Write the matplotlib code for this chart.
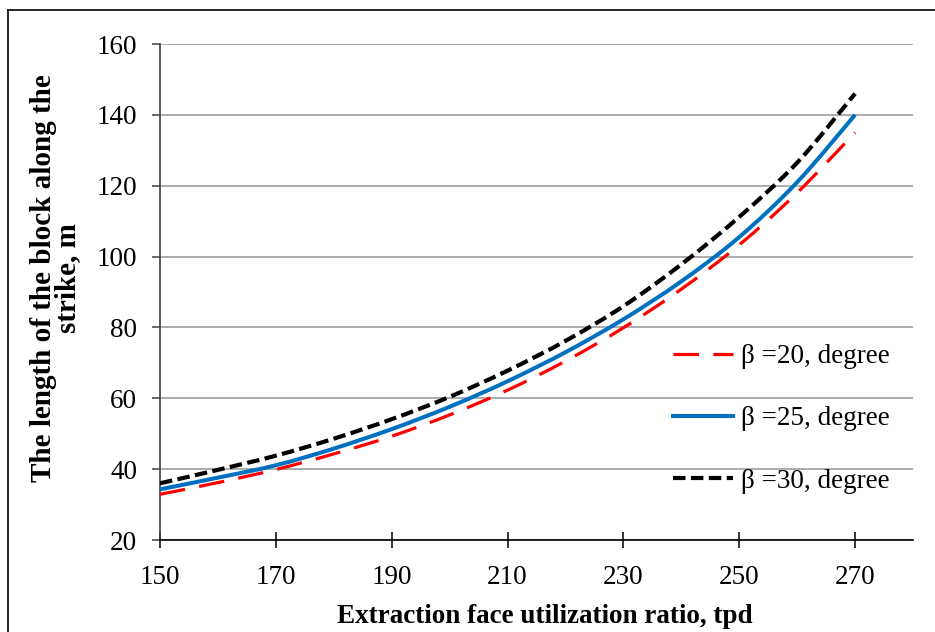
import matplotlib
matplotlib.use("Agg")
import matplotlib.pyplot as plt
from matplotlib.lines import Line2D
from matplotlib.path import Path
from matplotlib.patches import PathPatch

plt.rcParams['font.family'] = ['Liberation Serif', 'DejaVu Serif']

x = [150, 160, 170, 180, 190, 200, 210, 220, 230, 240, 250, 260, 270]
beta20 = [32.9, 36.2, 39.9, 44.3, 49.3, 55.3, 62.3, 70.5, 79.9, 90.8, 103.3, 118.0, 135.0]
beta25 = [34.3, 37.6, 41.1, 45.8, 51.3, 57.6, 64.8, 73.0, 82.3, 93.0, 105.5, 121.0, 140.0]
beta30 = [36.0, 39.8, 43.8, 48.6, 54.1, 60.4, 67.8, 76.2, 86.0, 97.8, 111.2, 126.5, 146.0]
labels = ["β =20, degree", "β =25, degree", "β =30, degree"]
xticks = [150, 170, 190, 210, 230, 250, 270]
yticks = [20, 40, 60, 80, 100, 120, 140, 160]


def smooth_path(xs, ys):
    pts = list(zip(xs, ys))
    n = len(pts)
    verts = [pts[0]]
    codes = [Path.MOVETO]
    for i in range(n - 1):
        p0 = pts[i - 1] if i > 0 else pts[i]
        p1 = pts[i]
        p2 = pts[i + 1]
        p3 = pts[i + 2] if i + 2 < n else pts[i + 1]
        c1 = (p1[0] + (p2[0] - p0[0]) / 6, p1[1] + (p2[1] - p0[1]) / 6)
        c2 = (p2[0] - (p3[0] - p1[0]) / 6, p2[1] - (p3[1] - p1[1]) / 6)
        verts += [c1, c2, p2]
        codes += [Path.CURVE4] * 3
    return Path(verts, codes)


fig = plt.figure(figsize=(9.35, 6.32), dpi=100)
ax = fig.add_axes([160/935, 1-540/632, (913-160)/935, (540-44)/632])

styles = [
    dict(color='#FF0000', lw=2.3, ls=(0, (8, 4.5))),
    dict(color='#0070C0', lw=2.9, ls='-'),
    dict(color='#000000', lw=3.0, ls=(0, (3, 1.3))),
]
handles = []
for ys, st, lab in zip([beta20, beta25, beta30], styles, labels):
    patch = PathPatch(smooth_path(x, ys), fill=False, edgecolor=st['color'],
                      lw=st['lw'], linestyle=st['ls'], zorder=3)
    ax.add_patch(patch)
    handles.append(Line2D([], [], color=st['color'], lw=st['lw'], linestyle=st['ls'], label=lab))

ax.set_xlim(150, 280)
ax.set_ylim(20, 160)
ax.set_xticks(xticks)
ax.set_yticks(yticks)
ax.grid(axis='y', color='#A6A6A6', lw=1.3)
ax.set_axisbelow(True)
for s in ['top', 'right']:
    ax.spines[s].set_visible(False)
ax.spines['left'].set_color('#404040')
ax.spines['left'].set_linewidth(1.2)
ax.spines['bottom'].set_color('#000000')
ax.spines['bottom'].set_linewidth(1.2)
ax.tick_params(axis='x', direction='inout', length=12, width=1.1, labelsize=19.5, pad=12)
ax.tick_params(axis='y', direction='out', length=6, width=1.1, color='#404040', labelsize=19.5, pad=10.5)

ax.set_xlabel("Extraction face utilization ratio, tpd", fontsize=19.5, fontweight='bold',
              labelpad=10, x=(545-160)/753)
ax.set_ylabel("The length of the block along the\nstrike, m", fontsize=21, fontweight='bold',
              labelpad=11, linespacing=0.87, y=(540-278)/496)

leg = ax.legend(handles=handles, loc='upper left', bbox_to_anchor=(0.667, 0.417), frameon=False,
                fontsize=19.5, handlelength=2.2, handletextpad=0.3, labelspacing=1.38, borderaxespad=0)

fig.add_artist(Line2D([8/935, 8/935], [0, 1-10/632], color='black', lw=1.2))
fig.add_artist(Line2D([8/935, 1], [1-10/632, 1-10/632], color='black', lw=1.2))

fig.savefig("out.png", dpi=100)
